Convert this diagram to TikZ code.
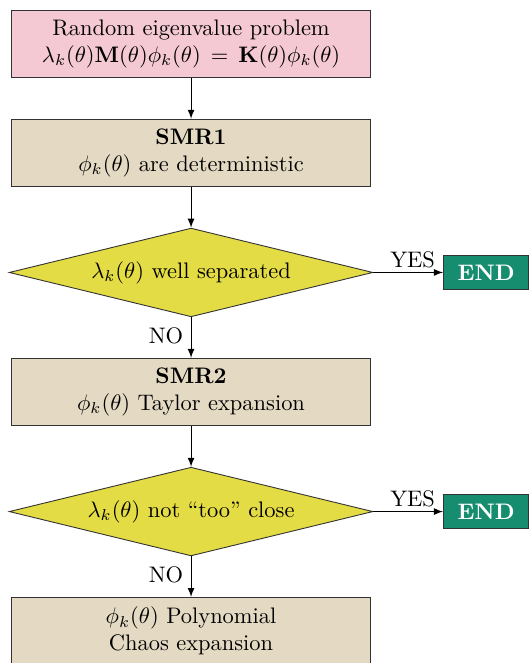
\documentclass[tikz,border=0pt]{standalone}
\usetikzlibrary{positioning,shapes.geometric}

\definecolor{probcolor}{rgb}{0.96,0.79,0.83}
\definecolor{smrcolor}{rgb}{0.894,0.855,0.765}
\definecolor{testcolor}{rgb}{0.894,0.863,0.271}
\definecolor{endcolor}{rgb}{0.090,0.553,0.435}

\tikzset{
  procbox/.style={draw=black!80,rectangle,minimum width=160pt,minimum height=30pt,align=center,inner sep=2pt},
  testbox/.style={draw=black!80,diamond,fill=testcolor,minimum width=162pt,minimum height=39.5pt,aspect=4,inner sep=1pt},
  endbox/.style={draw=black!80,rectangle,fill=endcolor,text=white,font=\bfseries,minimum width=38pt,minimum height=15pt,inner sep=1pt},
  flow/.style={->,>=latex},
}

\begin{document}
\begin{tikzpicture}[node distance=18.1pt]
\useasboundingbox (-85.1pt,19.6pt) rectangle (150.6pt,-275.7pt);
% main column
\node[procbox,fill=probcolor] (prob) at (0,0) {Random eigenvalue problem\\ $\lambda_k(\theta)\mathbf{M}(\theta)\phi_k(\theta)\,=\,\mathbf{K}(\theta)\phi_k(\theta)$};
\node[procbox,fill=smrcolor,below=of prob] (smr1) {\textbf{SMR1}\\ $\phi_k(\theta)$ are deterministic};
\node[testbox,below=of smr1] (sep) {$\lambda_k(\theta)$ well separated};
\node[procbox,fill=smrcolor,below=of sep] (smr2) {\textbf{SMR2}\\ $\phi_k(\theta)$ Taylor expansion};
\node[testbox,below=of smr2] (close) {$\lambda_k(\theta)$ not ``too'' close};
\node[procbox,fill=smrcolor,below=of close] (pce) {$\phi_k(\theta)$ Polynomial\\ Chaos expansion};
% exits
\node[endbox,right=31pt of sep] (end1) {END};
\node[endbox,right=31pt of close] (end2) {END};
% connectors
\draw[flow] (prob) -- (smr1);
\draw[flow] (smr1) -- (sep);
\draw[flow] (sep) -- node[left,pos=0.45] {NO} (smr2);
\draw[flow] (smr2) -- (close);
\draw[flow] (close) -- node[left,pos=0.45] {NO} (pce);
\draw[flow] (sep) -- node[above,pos=0.5,xshift=2pt,inner sep=2pt] {YES} (end1);
\draw[flow] (close) -- node[above,pos=0.5,xshift=2pt,inner sep=2pt] {YES} (end2);
\end{tikzpicture}
\end{document}
